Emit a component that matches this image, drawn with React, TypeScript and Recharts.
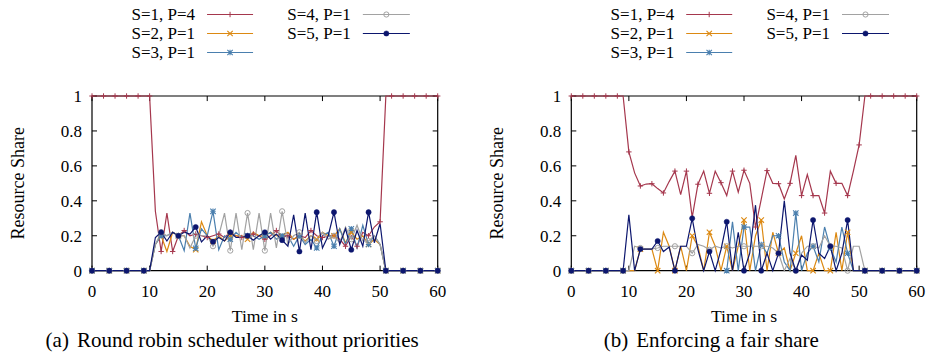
import React from "react";
import { LineChart, Line, XAxis, YAxis, ReferenceLine, ReferenceArea } from "recharts";

// time in seconds, one sample per second
const time = [
  0, 1, 2, 3, 4, 5, 6, 7, 8, 9, 10, 11, 12, 13, 14, 15, 16, 17, 18, 19, 20,
  21, 22, 23, 24, 25, 26, 27, 28, 29, 30, 31, 32, 33, 34, 35, 36, 37, 38, 39, 40,
  41, 42, 43, 44, 45, 46, 47, 48, 49, 50, 51, 52, 53, 54, 55, 56, 57, 58, 59, 60,
];

const seriesNames = ["S=1, P=4", "S=2, P=1", "S=3, P=1", "S=4, P=1", "S=5, P=1"];
const xTicks = [0, 10, 20, 30, 40, 50, 60];
const yTicks = [0, 0.2, 0.4, 0.6, 0.8, 1];

// (a) round robin scheduler without priorities
const rrS1 = [
  1, 1, 1, 1, 1, 1, 1, 1, 1, 1, 1,
  0.34, 0.11, 0.33, 0.11, 0.2, 0.23, 0.2, 0.21, 0.2, 0.19,
  0.2, 0.21, 0.19, 0.22, 0.2, 0.19, 0.2, 0.21, 0.2, 0.18,
  0.2, 0.23, 0.19, 0.2, 0.18, 0.2, 0.19, 0.23, 0.2, 0.19,
  0.2, 0.2, 0.18, 0.14, 0.2, 0.14, 0.22, 0.2, 0.25, 0.28,
  1, 1, 1, 1, 1, 1, 1, 1, 1, 1,
];
const rrS2 = [
  0, 0, 0, 0, 0, 0, 0, 0, 0, 0, 0,
  0.15, 0.2, 0.11, 0.22, 0.2, 0.2, 0.14, 0.12, 0.28, 0.2,
  0.17, 0.2, 0.17, 0.2, 0.2, 0.2, 0.18, 0.22, 0.2, 0.2,
  0.22, 0.2, 0.2, 0.22, 0.18, 0.2, 0.17, 0.2, 0.18, 0.22,
  0.2, 0.2, 0.24, 0.16, 0.22, 0.18, 0.2, 0.15, 0.18, 0.15,
  0, 0, 0, 0, 0, 0, 0, 0, 0, 0,
];
const rrS3 = [
  0, 0, 0, 0, 0, 0, 0, 0, 0, 0, 0,
  0.15, 0.2, 0.2, 0.22, 0.2, 0.115, 0.33, 0.128, 0.24, 0.2,
  0.34, 0.12, 0.2, 0.18, 0.22, 0.19, 0.2, 0.2, 0.18, 0.2,
  0.22, 0.18, 0.2, 0.2, 0.14, 0.2, 0.15, 0.18, 0.13, 0.2,
  0.22, 0.14, 0.24, 0.15, 0.24, 0.13, 0.26, 0.15, 0.2, 0.15,
  0, 0, 0, 0, 0, 0, 0, 0, 0, 0,
];
const rrS4 = [
  0, 0, 0, 0, 0, 0, 0, 0, 0, 0, 0,
  0.15, 0.22, 0.2, 0.22, 0.2, 0.2, 0.13, 0.2, 0.2, 0.2,
  0.14, 0.2, 0.33, 0.115, 0.33, 0.12, 0.33, 0.12, 0.33, 0.115,
  0.33, 0.13, 0.34, 0.15, 0.2, 0.22, 0.16, 0.2, 0.17, 0.22,
  0.18, 0.2, 0.16, 0.25, 0.18, 0.26, 0.17, 0.17, 0.2, 0.15,
  0, 0, 0, 0, 0, 0, 0, 0, 0, 0,
];
const rrS5 = [
  0, 0, 0, 0, 0, 0, 0, 0, 0, 0, 0,
  0.19, 0.22, 0.17, 0.22, 0.2, 0.22, 0.21, 0.25, 0.165, 0.2,
  0.166, 0.19, 0.17, 0.22, 0.19, 0.19, 0.2, 0.175, 0.2, 0.22,
  0.18, 0.21, 0.175, 0.14, 0.32, 0.11, 0.33, 0.12, 0.335, 0.13,
  0.2, 0.335, 0.15, 0.24, 0.12, 0.23, 0.14, 0.335, 0.16, 0.27,
  0, 0, 0, 0, 0, 0, 0, 0, 0, 0,
];

// (b) enforcing a fair share
const fairS1 = [
  1, 1, 1, 1, 1, 1, 1, 1, 1, 1,
  0.68, 0.56, 0.485, 0.496, 0.498, 0.47, 0.445, 0.51, 0.57, 0.435,
  0.57, 0.305, 0.495, 0.57, 0.443, 0.57, 0.504, 0.43, 0.57, 0.45,
  0.575, 0.5, 0.25, 0.41, 0.573, 0.5, 0.498, 0.41, 0.5, 0.66,
  0.43, 0.55, 0.43, 0.43, 0.33, 0.57, 0.5, 0.5, 0.43, 0.57,
  0.72,
  1, 1, 1, 1, 1, 1, 1, 1, 1, 1,
];
const fairS2 = [
  0, 0, 0, 0, 0, 0, 0, 0, 0, 0, 0,
  0, 0.124, 0.124, 0.124, 0, 0.22, 0.14, 0, 0.14, 0,
  0.2, 0.14, 0, 0.22, 0.14, 0, 0.14, 0, 0.14, 0.29,
  0, 0.2, 0.29, 0, 0.22, 0.1, 0.13, 0, 0.1, 0.2,
  0, 0, 0.1, 0, 0, 0.22, 0, 0.22, 0, 0,
  0, 0, 0, 0, 0, 0, 0, 0, 0, 0,
];
// no share for S=3 between 10 s and 26 s
const fairS3 = [
  0, 0, 0, 0, 0, 0, 0, 0, 0, 0,
  null, null, null, null, null, null, null, null, null, null,
  null, null, null, null, null, null, null, 0,
  0.28, 0, 0.25, 0.25, 0, 0.15, 0.1, 0.2, 0.2, 0.05,
  0, 0.33, 0, 0.1, 0.14, 0.05, 0.25, 0.13, 0.05, 0.25,
  0.1, 0, 0,
  0, 0, 0, 0, 0, 0, 0, 0, 0, 0,
];
const fairS4 = [
  0, 0, 0, 0, 0, 0, 0, 0, 0, 0, 0,
  0.14, 0.13, 0.125, 0.125, 0.13, 0.14, 0.14, 0.14, 0.14, 0.14,
  0.1, 0.15, 0.14, 0.12, 0.14, 0.13, 0.14, 0.13, 0.14, 0.14,
  0.14, 0.14, 0.14, 0.14, 0.13, 0.1, 0, 0.07, 0, 0.1,
  0.14, 0.14, 0.13, 0.2, 0.14, 0.14, 0.13, 0, 0.14, 0.14,
  0, 0, 0, 0, 0, 0, 0, 0, 0, 0,
];
const fairS5 = [
  0, 0, 0, 0, 0, 0, 0, 0, 0, 0,
  0.32, 0, 0.124, 0.124, 0.124, 0.17, 0.11, 0.135, 0, 0.14,
  0.14, 0.3, 0.12, 0, 0.11, 0, 0.12, 0.28, 0, 0.22,
  0, 0.1, 0.375, 0, 0.1, 0, 0.1, 0.4, 0.1, 0,
  0.09, 0.06, 0.29, 0.1, 0.07, 0.14, 0, 0.1, 0.29, 0,
  0,
  0, 0, 0, 0, 0, 0, 0, 0, 0, 0,
];

const FONT = "'Liberation Serif', 'Times New Roman', serif";
const COLORS = ["#a5374d", "#dc8912", "#4a7fae", "#a2a2a2", "#0c166e"];
const SHAPES = ["plus", "cross", "star", "circle", "disc"];
const EVERY = [2, 3, 3, 3, 3];

const W = 466;
const H = 354;
const Y_W = 92;
const PLOT_TOP = 96;
const PLOT_BOTTOM = 270.7;
const X_H = 30;

function Marker({ shape, x, y, color }: { shape: string; x: number; y: number; color: string }) {
  const r = 2.7;
  if (shape === "plus")
    return <path d={`M${x - r},${y}H${x + r}M${x},${y - r}V${y + r}`} stroke={color} strokeWidth={1} fill="none" />;
  if (shape === "cross")
    return (
      <path d={`M${x - r},${y - r}L${x + r},${y + r}M${x - r},${y + r}L${x + r},${y - r}`} stroke={color} strokeWidth={1.1} fill="none" />
    );
  if (shape === "star")
    return (
      <path
        d={`M${x - r},${y}H${x + r}M${x},${y - r}V${y + r}M${x - r},${y - r}L${x + r},${y + r}M${x - r},${y + r}L${x + r},${y - r}`}
        stroke={color}
        strokeWidth={1.1}
        fill="none"
      />
    );
  if (shape === "circle") return <circle cx={x} cy={y} r={2.6} stroke={color} strokeWidth={1} fill="none" />;
  return <circle cx={x} cy={y} r={2.6} fill={color} stroke={color} strokeWidth={0.5} />;
}

const dotFor = (i: number) => (p: any) => {
  const key = `m${i}-${p.index}`;
  if (p.index % EVERY[i] !== 0 || p.cx == null || p.cy == null || p.value == null) return <g key={key} />;
  return (
    <g key={key}>
      <Marker shape={SHAPES[i]} x={p.cx} y={p.cy} color={COLORS[i]} />
    </g>
  );
};

function Panel({
  left,
  series,
  tag,
  caption,
  marginLeft,
  marginRight,
}: {
  left: number;
  series: (number | null)[][];
  tag: string;
  caption: string;
  marginLeft: number;
  marginRight: number;
}) {
  const data = time.map((t, k) => {
    const row: Record<string, number | null> = { t };
    series.forEach((s, i) => (row[`s${i}`] = s[k]));
    return row;
  });
  const plotLeft = marginLeft + Y_W;
  const plotRight = W - marginRight;
  const cx = (plotLeft + plotRight) / 2;
  const tickFont = { fill: "#000", fontSize: 17, fontFamily: FONT };

  const legendCols = [
    { textEnd: cx - 69.8, s0: cx - 57.8, s1: cx - 11.8, items: [0, 1, 2] },
    { textEnd: cx + 86, s0: cx + 98, s1: cx + 145, items: [3, 4] },
  ];
  const rows = [14.5, 33.5, 52.5];

  return (
    <div style={{ position: "absolute", left, top: 0, width: W, height: H }}>
      <LineChart
        width={W}
        height={H}
        data={data}
        margin={{ top: PLOT_TOP, right: marginRight, bottom: H - PLOT_BOTTOM - X_H, left: marginLeft }}
      >
        <XAxis
          dataKey="t"
          type="number"
          domain={[0, 60]}
          ticks={xTicks}
          interval={0}
          tickLine={false}
          axisLine={false}
          height={X_H}
          tickMargin={8}
          tick={tickFont}
        />
        <YAxis
          type="number"
          domain={[0, 1]}
          ticks={yTicks}
          interval={0}
          tickLine={false}
          axisLine={false}
          width={Y_W}
          tickMargin={4}
          tick={tickFont}
        />
        {yTicks.map((v) => (
          <ReferenceLine key={`yl${v}`} segment={[{ x: 0, y: v }, { x: 0.87, y: v }]} stroke="#000" strokeWidth={1} />
        ))}
        {yTicks.map((v) => (
          <ReferenceLine key={`yr${v}`} segment={[{ x: 59.13, y: v }, { x: 60, y: v }]} stroke="#000" strokeWidth={1} />
        ))}
        {xTicks.map((v) => (
          <ReferenceLine key={`xb${v}`} segment={[{ x: v, y: 0 }, { x: v, y: 0.029 }]} stroke="#000" strokeWidth={1} />
        ))}
        {xTicks.map((v) => (
          <ReferenceLine key={`xt${v}`} segment={[{ x: v, y: 0.971 }, { x: v, y: 1 }]} stroke="#000" strokeWidth={1} />
        ))}
        {series.map((_, i) => (
          <Line
            key={i}
            type="linear"
            dataKey={`s${i}`}
            name={seriesNames[i]}
            stroke={COLORS[i]}
            strokeWidth={1.2}
            dot={dotFor(i)}
            activeDot={false}
            connectNulls={false}
            isAnimationActive={false}
          />
        ))}
        <ReferenceArea x1={0} x2={60} y1={0} y2={1} fill="none" fillOpacity={0} stroke="#000" strokeWidth={1.2} />
      </LineChart>
      <svg
        width={W}
        height={H}
        style={{ position: "absolute", left: 0, top: 0, pointerEvents: "none" }}
        fontFamily={FONT}
      >
        {legendCols.map((col) =>
          col.items.map((i, r) => (
            <g key={`lg${i}`}>
              <text x={col.textEnd} y={rows[r]} textAnchor="end" dominantBaseline="central" fontSize={17} fill="#000">
                {seriesNames[i]}
              </text>
              <line x1={col.s0} x2={col.s1} y1={rows[r]} y2={rows[r]} stroke={COLORS[i]} strokeWidth={1.2} />
              <Marker shape={SHAPES[i]} x={(col.s0 + col.s1) / 2} y={rows[r]} color={COLORS[i]} />
            </g>
          ))
        )}
        <text
          x={plotLeft - 74}
          y={(PLOT_TOP + PLOT_BOTTOM) / 2}
          transform={`rotate(-90 ${plotLeft - 74} ${(PLOT_TOP + PLOT_BOTTOM) / 2})`}
          textAnchor="middle"
          dominantBaseline="central"
          fontSize={18}
          fill="#000"
        >
          Resource Share
        </text>
        <text x={cx} y={316} textAnchor="middle" dominantBaseline="central" fontSize={17.7} fill="#000">
          Time in s
        </text>
        <text x={cx - 32.7} y={340} textAnchor="middle" dominantBaseline="central" fontSize={21} fill="#000">
          <tspan>{tag}</tspan>
          <tspan dx={8}>{caption}</tspan>
        </text>
      </svg>
    </div>
  );
}

export default function App() {
  return (
    <div style={{ position: "absolute", left: 0, top: 0, width: 932, height: 354, background: "#fff" }}>
      <Panel
        left={0}
        series={[rrS1, rrS2, rrS3, rrS4, rrS5]}
        tag="(a)"
        caption="Round robin scheduler without priorities"
        marginLeft={0}
        marginRight={28.3}
      />
      <Panel
        left={466}
        series={[fairS1, fairS2, fairS3, fairS4, fairS5]}
        tag="(b)"
        caption="Enforcing a fair share"
        marginLeft={13.3}
        marginRight={15.3}
      />
    </div>
  );
}
